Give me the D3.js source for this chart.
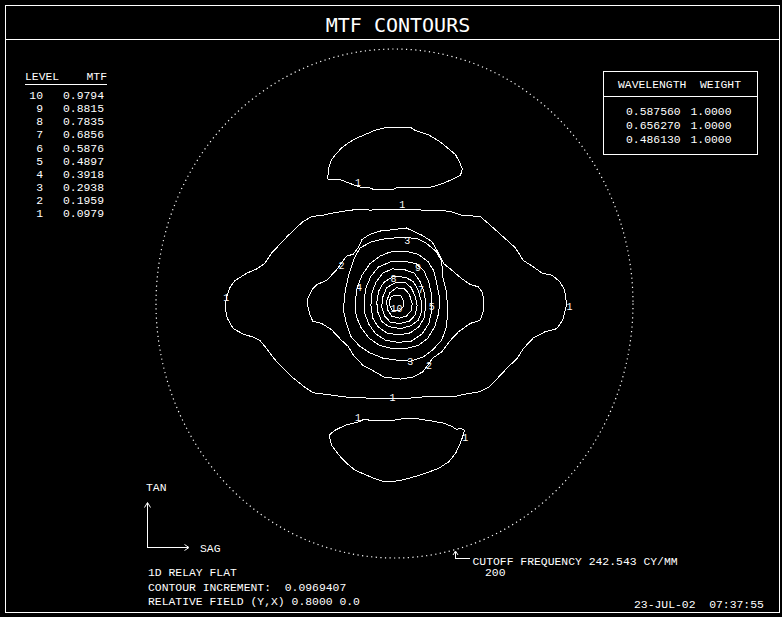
<!DOCTYPE html>
<html>
<head>
<meta charset="utf-8">
<script src="https://cdn.jsdelivr.net/npm/d3@7"></script>
<style>
  body { margin: 0; background: #000; }
  svg text { font-family: "Liberation Mono", "DejaVu Sans Mono", monospace; fill: #fff; white-space: pre; }
</style>
</head>
<body>
<div id="container"></div>
<script>
// values (frequencies in cy/mm, SAG = x, TAN = y)
var levels = [10, 9, 8, 7, 6, 5, 4, 3, 2, 1];
var mtfValues = [0.9794, 0.8815, 0.7835, 0.6856, 0.5876, 0.4897, 0.3918, 0.2938, 0.1959, 0.0979];
var wavelengths = [0.587560, 0.656270, 0.486130];
var weights = [1.0, 1.0, 1.0];
var cutoffFrequency = 242.543;
var contourIncrement = 0.0969407;
var fieldYX = [0.8, 0.0];

var contour1Main = [[-5,90],[9,90],[29,89],[56,88],[69,84],[87,83],[97,75],[110,64],[123,53],[131,41],[141,35],[150,29],[160,27],[168,21],[173,13],[175,-1],[171,-16],[165,-24],[153,-27],[141,-33],[131,-43],[125,-52],[114,-62],[97,-79],[87,-84],[74,-86],[59,-89],[29,-89],[6,-91],[-32,-90],[-52,-89],[-66,-87],[-83,-85],[-91,-80],[-103,-71],[-113,-62],[-123,-52],[-130,-43],[-137,-35],[-144,-32],[-154,-29],[-164,-24],[-170,-14],[-172,-5],[-171,6],[-167,16],[-162,22],[-150,29],[-140,33],[-132,38],[-125,48],[-119,54],[-109,64],[-99,73],[-93,78],[-84,83],[-73,84],[-64,86],[-52,88],[-35,90],[-25,89]];
var contour1Top = [[-68,119],[-67,129],[-64,137],[-59,143],[-54,148],[-47,153],[-40,157],[-30,161],[-20,165],[-8,168],[11,168],[16,168],[21,165],[34,161],[45,155],[53,149],[62,142],[66,135],[69,128],[67,122],[58,118],[48,114],[34,110],[28,111],[4,111],[-1,109],[-22,109],[-28,111],[-35,111],[-47,115],[-55,118],[-61,118],[-66,118]];
var contour1Bottom = [[-37,-113],[-30,-110],[-23,-112],[1,-111],[7,-110],[24,-110],[38,-112],[50,-114],[58,-117],[63,-120],[68,-119],[71,-121],[70,-125],[67,-133],[62,-143],[55,-151],[45,-157],[31,-162],[17,-166],[4,-169],[-10,-170],[-20,-167],[-30,-163],[-40,-159],[-49,-152],[-57,-144],[-64,-135],[-66,-128],[-66,-125],[-61,-121],[-50,-116],[-42,-114]];
var contour2 = [[-5,70],[12,72],[28,65],[38,59],[46,46],[50,38],[58,32],[68,24],[77,18],[85,16],[89,11],[91,3],[91,-6],[87,-16],[77,-19],[65,-27],[56,-36],[48,-46],[39,-52],[29,-65],[19,-70],[6,-72],[-11,-70],[-20,-65],[-32,-59],[-42,-49],[-47,-41],[-54,-35],[-64,-25],[-74,-19],[-83,-17],[-86,-11],[-88,-3],[-88,5],[-84,13],[-79,18],[-69,22],[-59,32],[-49,45],[-42,47],[-37,53],[-33,61],[-25,66],[-11,70]];
var contour3 = [[-8,62],[9,63],[23,62],[33,57],[43,49],[48,40],[49,26],[53,10],[54,-6],[53,-22],[48,-35],[39,-44],[29,-51],[16,-55],[3,-54],[-12,-52],[-25,-47],[-35,-41],[-44,-32],[-49,-19],[-52,-6],[-50,13],[-46,29],[-41,43],[-35,53],[-23,59]];
var contour4 = [[-5,49],[11,50],[24,47],[34,40],[40,31],[43,19],[46,5],[45,-9],[41,-22],[34,-33],[24,-40],[11,-43],[-2,-43],[-15,-40],[-26,-33],[-34,-23],[-39,-12],[-40,1],[-38,15],[-33,27],[-25,38],[-15,45]];
var contour5 = [[-3,40],[11,40],[22,38],[30,31],[35,20],[38,7],[38,-6],[35,-19],[28,-29],[17,-36],[4,-37],[-9,-35],[-19,-29],[-26,-20],[-30,-10],[-31,2],[-29,15],[-24,26],[-16,35]];
var contour6 = [[-2,33],[11,32],[20,29],[26,21],[30,11],[32,-1],[30,-14],[25,-22],[16,-28],[4,-30],[-8,-28],[-17,-22],[-22,-14],[-24,-2],[-23,10],[-19,20],[-12,29]];
var contour7 = [[-1,26],[11,25],[19,21],[24,13],[27,3],[28,-7],[24,-16],[17,-21],[6,-24],[-6,-22],[-13,-17],[-17,-8],[-18,1],[-16,12],[-11,20]];
var contour8 = [[1,20],[11,20],[17,15],[21,7],[23,-2],[21,-11],[15,-17],[6,-19],[-4,-18],[-10,-12],[-13,-3],[-12,6],[-8,15]];
var contour9 = [[2,15],[10,14],[15,9],[18,0],[17,-7],[12,-12],[5,-14],[-3,-12],[-7,-6],[-8,2],[-5,10]];
var contour10 = [[-3,7],[6,8],[9,3],[9,-3],[5,-7],[-2,-7],[-5,-2],[-5,3]];

// label positions on the contours: [sag, tan, text]
var contourLabels = [
  [8, 94, "1"], [-171, 6, "1"], [178, -3, "1"], [-2, -90, "1"],
  [-37, 115, "1"], [-37, -109, "1"], [72, -128, "1"],
  [-54, 36, "2"], [35, -59, "2"],
  [13, 60, "3"], [16, -55, "3"],
  [-36, 15, "4"], [38, -3, "5"], [24, 34, "9"],
  [-1, 24, "8"], [27, 13, "7"], [2, -5, "10"]
];

var allContours = [contour1Main, contour1Top, contour1Bottom, contour2, contour3, contour4,
  contour5, contour6, contour7, contour8, contour9, contour10];

/*-------------------------------------------------------------------------------------*/
var width = 782;
var height = 617;
var small = '11.4px';

var svg = d3.select('#container')
  .append('svg')
  .attr('width', width)
  .attr('height', height)
  .style('background', '#000');

// frame + title bar
svg.append('rect')
  .attr('x', 5).attr('y', 5)
  .attr('width', 774).attr('height', 607)
  .attr('fill', 'none').attr('stroke', '#fff')
  .attr('shape-rendering', 'crispEdges');

svg.append('line')
  .attr('x1', 5).attr('x2', 779)
  .attr('y1', 39).attr('y2', 39)
  .attr('stroke', '#fff')
  .attr('shape-rendering', 'crispEdges');

svg.append('text')
  .attr('x', 398).attr('y', 32)
  .attr('text-anchor', 'middle')
  .style('font-size', '20px')
  .style('font-family', '"DejaVu Sans Mono", monospace')
  .style('font-weight', '300')
  .text('MTF CONTOURS');

/*-------------------------------------------------------------------------------------*/
// contour plot
var x = d3.scaleLinear()
  .domain([-cutoffFrequency, cutoffFrequency])
  .range([156, 633]);

var y = d3.scaleLinear()
  .domain([-cutoffFrequency, cutoffFrequency])
  .range([558, 49]);

var plot = svg.append('g');

// cutoff circle, dotted
plot.append('ellipse')
  .attr('cx', x(0))
  .attr('cy', y(0))
  .attr('rx', x(cutoffFrequency) - x(0))
  .attr('ry', y(0) - y(cutoffFrequency))
  .attr('fill', 'none')
  .attr('stroke', '#fff')
  .attr('stroke-width', 1.2)
  .attr('stroke-dasharray', '1.2 3.4');

var contourLine = d3.line()
  .x(d => x(d[0]))
  .y(d => y(d[1]))
  .curve(d3.curveLinearClosed);

plot.selectAll('path.contour')
  .data(allContours)
  .join('path')
  .attr('class', 'contour')
  .attr('d', contourLine)
  .attr('fill', 'none')
  .attr('stroke', '#fff')
  .attr('stroke-width', 1)
  .attr('shape-rendering', 'crispEdges');

plot.selectAll('text.lbl')
  .data(contourLabels)
  .join('text')
  .attr('class', 'lbl')
  .attr('x', d => x(d[0]))
  .attr('y', d => y(d[1]))
  .attr('dy', '0.35em')
  .attr('text-anchor', 'middle')
  .style('font-size', '10px')
  .text(d => d[2]);

/*-------------------------------------------------------------------------------------*/
// level table
var table = svg.append('g');

table.append('text').attr('x', 25).attr('y', 80).style('font-size', small).text('LEVEL');
table.append('text').attr('x', 107).attr('y', 80).attr('text-anchor', 'end').style('font-size', small).text('MTF');
table.append('line')
  .attr('x1', 25).attr('x2', 107).attr('y1', 84).attr('y2', 84)
  .attr('stroke', '#fff').attr('shape-rendering', 'crispEdges');

var rowY = d3.scaleLinear().domain([0, levels.length - 1]).range([99, 217.3]);

table.selectAll('text.lev')
  .data(levels)
  .join('text')
  .attr('class', 'lev')
  .attr('x', 43)
  .attr('y', (d, i) => rowY(i))
  .attr('text-anchor', 'end')
  .style('font-size', small)
  .text(d => d);

table.selectAll('text.mtf')
  .data(mtfValues)
  .join('text')
  .attr('class', 'mtf')
  .attr('x', 63)
  .attr('y', (d, i) => rowY(i))
  .style('font-size', small)
  .text(d => d.toFixed(4));

/*-------------------------------------------------------------------------------------*/
// wavelength box
var wbox = svg.append('g');

wbox.append('rect')
  .attr('x', 603).attr('y', 71)
  .attr('width', 154).attr('height', 83)
  .attr('fill', 'none').attr('stroke', '#fff')
  .attr('shape-rendering', 'crispEdges');
wbox.append('line')
  .attr('x1', 603).attr('x2', 757).attr('y1', 96).attr('y2', 96)
  .attr('stroke', '#fff').attr('shape-rendering', 'crispEdges');

wbox.append('text').attr('x', 618).attr('y', 87.5).style('font-size', small).text('WAVELENGTH');
wbox.append('text').attr('x', 700).attr('y', 87.5).style('font-size', small).text('WEIGHT');

wbox.selectAll('text.wl')
  .data(wavelengths)
  .join('text')
  .attr('class', 'wl')
  .attr('x', 626)
  .attr('y', (d, i) => 115 + i * 13.8)
  .style('font-size', small)
  .text(d => d.toFixed(6));

wbox.selectAll('text.wt')
  .data(weights)
  .join('text')
  .attr('class', 'wt')
  .attr('x', 690.5)
  .attr('y', (d, i) => 115 + i * 13.8)
  .style('font-size', small)
  .text(d => d.toFixed(4));

/*-------------------------------------------------------------------------------------*/
// orientation arrows and footer notes
var foot = svg.append('g');
var white = '#fff';

foot.append('path')
  .attr('d', 'M147.5,503 L147.5,547.5 L188,547.5')
  .attr('fill', 'none').attr('stroke', white).attr('shape-rendering', 'crispEdges');
foot.append('path')
  .attr('d', 'M144.5,507.5 L147.5,502.5 L150.5,507.5')
  .attr('fill', 'none').attr('stroke', white);
foot.append('path')
  .attr('d', 'M184.5,544.5 L189,547.5 L184.5,550.5')
  .attr('fill', 'none').attr('stroke', white);

foot.append('text').attr('x', 146).attr('y', 491).style('font-size', small).text('TAN');
foot.append('text').attr('x', 200).attr('y', 552).style('font-size', small).text('SAG');

foot.append('text').attr('x', 148).attr('y', 576).style('font-size', small).text('1D RELAY FLAT');
foot.append('text').attr('x', 148).attr('y', 590.5).style('font-size', small)
  .text('CONTOUR INCREMENT:  ' + contourIncrement.toFixed(7));
foot.append('text').attr('x', 148).attr('y', 605).style('font-size', small)
  .text('RELATIVE FIELD (Y,X) ' + fieldYX[0].toFixed(4) + ' ' + fieldYX[1].toFixed(1));

// cutoff pointer
foot.append('path')
  .attr('d', 'M455.5,552 L455.5,558.5 L470,558.5')
  .attr('fill', 'none').attr('stroke', white).attr('shape-rendering', 'crispEdges');
foot.append('path')
  .attr('d', 'M453,555 L455.5,551 L458,555')
  .attr('fill', 'none').attr('stroke', white);

foot.append('text').attr('x', 472.5).attr('y', 565).style('font-size', small)
  .text('CUTOFF FREQUENCY ' + cutoffFrequency.toFixed(3) + ' CY/MM');
foot.append('text').attr('x', 485).attr('y', 576).style('font-size', small).text('200');

foot.append('text').attr('x', 634).attr('y', 608).style('font-size', small).text('23-JUL-02  07:37:55');
</script>
</body>
</html>
